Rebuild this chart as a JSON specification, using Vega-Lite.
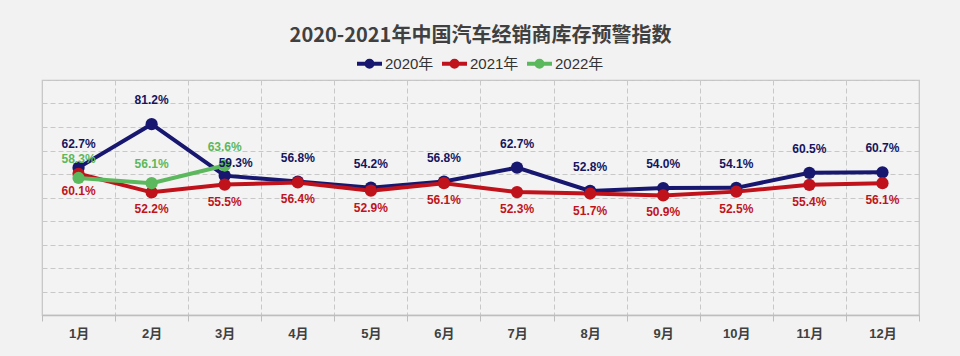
{
  "$schema": "https://vega.github.io/schema/vega-lite/v6.json",
  "width": 877,
  "height": 235,
  "autosize": {"type": "none"},
  "padding": {"left": 42, "top": 80, "right": 41, "bottom": 41},
  "background": "#f2f2f2",
  "title": {
    "text": "2020-2021年中国汽车经销商库存预警指数",
    "font": "Noto Sans CJK SC",
    "fontSize": 20,
    "fontWeight": "bold",
    "color": "#404040",
    "anchor": "middle",
    "offset": 10
  },
  "config": {
    "view": {"stroke": "#c4c4c4", "strokeWidth": 1.2, "fill": "#f3f3f3"},
    "axis": {"gridColor": "#c8c8c8", "gridDash": [5, 3], "gridWidth": 1}
  },
  "data": {
    "values": [
      {"month": "1月", "year": "2020年", "value": 62.7},
      {"month": "2月", "year": "2020年", "value": 81.2},
      {"month": "3月", "year": "2020年", "value": 59.3},
      {"month": "4月", "year": "2020年", "value": 56.8},
      {"month": "5月", "year": "2020年", "value": 54.2},
      {"month": "6月", "year": "2020年", "value": 56.8},
      {"month": "7月", "year": "2020年", "value": 62.7},
      {"month": "8月", "year": "2020年", "value": 52.8},
      {"month": "9月", "year": "2020年", "value": 54.0},
      {"month": "10月", "year": "2020年", "value": 54.1},
      {"month": "11月", "year": "2020年", "value": 60.5},
      {"month": "12月", "year": "2020年", "value": 60.7},
      {"month": "1月", "year": "2021年", "value": 60.1},
      {"month": "2月", "year": "2021年", "value": 52.2},
      {"month": "3月", "year": "2021年", "value": 55.5},
      {"month": "4月", "year": "2021年", "value": 56.4},
      {"month": "5月", "year": "2021年", "value": 52.9},
      {"month": "6月", "year": "2021年", "value": 56.1},
      {"month": "7月", "year": "2021年", "value": 52.3},
      {"month": "8月", "year": "2021年", "value": 51.7},
      {"month": "9月", "year": "2021年", "value": 50.9},
      {"month": "10月", "year": "2021年", "value": 52.5},
      {"month": "11月", "year": "2021年", "value": 55.4},
      {"month": "12月", "year": "2021年", "value": 56.1},
      {"month": "1月", "year": "2022年", "value": 58.3},
      {"month": "2月", "year": "2022年", "value": 56.1},
      {"month": "3月", "year": "2022年", "value": 63.6}
    ]
  },
  "transform": [
    {"calculate": "format(datum.value, '.1f') + '%'", "as": "label"}
  ],
  "encoding": {
    "x": {
      "field": "month",
      "type": "ordinal",
      "sort": ["1月", "2月", "3月", "4月", "5月", "6月", "7月", "8月", "9月", "10月", "11月", "12月"],
      "scale": {"paddingInner": 0, "paddingOuter": 0},
      "axis": {
        "title": null,
        "labelAngle": 0,
        "labelFont": "Liberation Sans, Noto Sans CJK SC",
        "labelFontSize": 13,
        "labelFontWeight": "bold",
        "labelColor": "#404040",
        "labelPadding": 6,
        "tickBand": "extent",
        "tickSize": 6,
        "tickColor": "#bdbdbd",
        "domainColor": "#bdbdbd",
        "domainWidth": 1.5,
        "grid": true
      }
    },
    "y": {
      "field": "value",
      "type": "quantitative",
      "scale": {"domain": [0, 100], "nice": false},
      "axis": {
        "title": null,
        "labels": false,
        "ticks": false,
        "domain": false,
        "values": [0, 10, 20, 30, 40, 50, 60, 70, 80, 90, 100],
        "grid": true
      }
    }
  },
  "layer": [
    {
      "mark": {"type": "line", "strokeWidth": 4, "point": {"size": 150, "filled": true, "opacity": 1}},
      "encoding": {
        "color": {
          "field": "year",
          "type": "nominal",
          "scale": {"domain": ["2020年", "2021年", "2022年"], "range": ["#17176f", "#c0121b", "#5cb85c"]},
          "legend": {
            "title": null,
            "orient": "none",
            "direction": "horizontal",
            "legendX": 320,
            "legendY": -24,
            "padding": 0,
            "labelFont": "Liberation Sans, Noto Sans CJK SC",
            "labelFontSize": 15,
            "labelColor": "#333333",
            "labelOffset": 8,
            "columnPadding": 0,
            "symbolType": "M-2.5,0L2.5,0M0.6,0A0.6,0.6,0,1,1,-0.6,0A0.6,0.6,0,1,1,0.6,0",
            "symbolSize": 100,
            "symbolStrokeWidth": 4,
            "encode": {
              "symbols": {
                "update": {
                  "fill": {"scale": "color", "field": "value"},
                  "stroke": {"scale": "color", "field": "value"},
                  "strokeWidth": {"value": 4},
                  "opacity": {"value": 1}
                }
              }
            }
          }
        }
      }
    },
    {
      "transform": [{"filter": "datum.year == '2020年' && datum.month != '3月'"}],
      "mark": {"type": "text", "dy": -24, "font": "Liberation Sans", "fontSize": 12, "fontWeight": "bold", "color": "#15155f"},
      "encoding": {"text": {"field": "label"}}
    },
    {
      "transform": [{"filter": "datum.year == '2020年' && datum.month == '3月'"}],
      "mark": {"type": "text", "dx": 11, "dy": -13, "font": "Liberation Sans", "fontSize": 12, "fontWeight": "bold", "color": "#15155f"},
      "encoding": {"text": {"field": "label"}}
    },
    {
      "transform": [{"filter": "datum.year == '2021年'"}],
      "mark": {"type": "text", "dy": 17, "font": "Liberation Sans", "fontSize": 12, "fontWeight": "bold", "color": "#c0141c"},
      "encoding": {"text": {"field": "label"}}
    },
    {
      "transform": [{"filter": "datum.year == '2022年'"}],
      "mark": {"type": "text", "dy": -19, "font": "Liberation Sans", "fontSize": 12, "fontWeight": "bold", "color": "#5cb85c"},
      "encoding": {"text": {"field": "label"}}
    }
  ]
}
